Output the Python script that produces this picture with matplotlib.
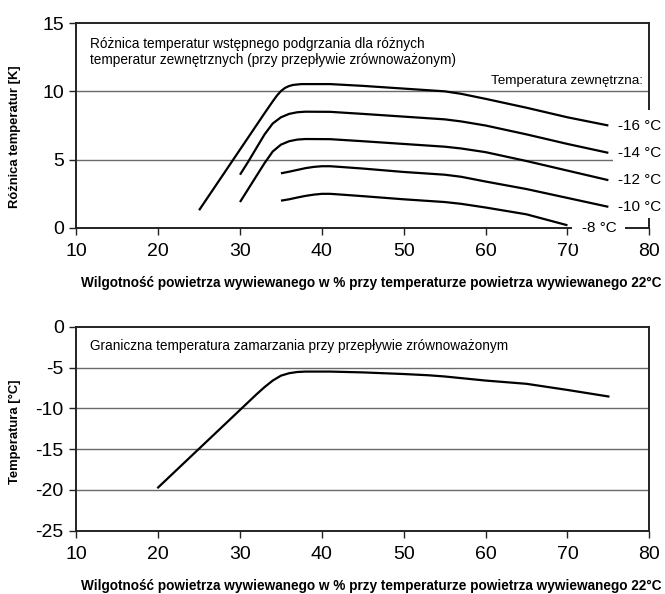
import matplotlib
matplotlib.use("Agg")
import matplotlib.pyplot as plt
from matplotlib.patches import Rectangle

plt.rcParams['font.family'] = ['Liberation Sans', 'DejaVu Sans']
plt.rcParams['axes.unicode_minus'] = False

# Preheating temperature difference [K] vs. exhaust-air humidity [%], per outdoor temperature
outdoor_labels = ["-16 °C", "-14 °C", "-12 °C", "-10 °C", "-8 °C"]

x_m16 = [25, 33, 34, 34.5, 35, 35.5, 36, 36.5, 37.5, 41, 45, 50, 53, 55, 57, 60, 65, 70, 75]
y_m16 = [1.3, 8.4, 9.27, 9.68, 10.02, 10.25, 10.39, 10.47, 10.53, 10.53, 10.4, 10.2,
         10.08, 10.0, 9.82, 9.45, 8.8, 8.1, 7.5]

x_m14 = [30, 31, 32, 33, 34, 35, 36, 37, 38, 41, 45, 50, 53, 55, 57, 60, 65, 70, 75]
y_m14 = [3.9, 4.85, 5.85, 6.85, 7.65, 8.1, 8.35, 8.47, 8.51, 8.5, 8.35, 8.15,
         8.03, 7.95, 7.8, 7.5, 6.85, 6.15, 5.5]

x_m12 = [30, 31, 32, 33, 34, 35, 36, 37, 38, 41, 45, 50, 53, 55, 57, 60, 65, 70, 75]
y_m12 = [1.9, 2.85, 3.8, 4.75, 5.6, 6.1, 6.35, 6.47, 6.51, 6.5, 6.35, 6.15,
         6.03, 5.95, 5.82, 5.55, 4.9, 4.2, 3.5]

x_m10 = [35, 36, 37, 38, 39, 40, 41, 42, 45, 50, 53, 55, 57, 60, 65, 70, 75]
y_m10 = [4.0, 4.12, 4.25, 4.38, 4.47, 4.52, 4.52, 4.48, 4.35, 4.1, 3.98, 3.9,
         3.75, 3.4, 2.85, 2.2, 1.55]

x_m8 = [35, 36, 37, 38, 39, 40, 41, 42, 45, 50, 53, 55, 57, 60, 65, 70]
y_m8 = [2.0, 2.1, 2.23, 2.35, 2.44, 2.5, 2.5, 2.46, 2.33, 2.1, 1.98, 1.9,
        1.77, 1.5, 1.0, 0.2]

# Freezing limit temperature [°C] vs. exhaust-air humidity [%]
x_freeze = [20, 32, 33, 34, 35, 36, 37, 38, 41, 45, 50, 53, 55, 57, 60, 65, 70, 75]
y_freeze = [-19.7, -8.3, -7.4, -6.6, -6.0, -5.7, -5.55, -5.5, -5.5, -5.6, -5.8,
            -5.95, -6.1, -6.3, -6.6, -7.0, -7.75, -8.55]

x_ticks = [10, 20, 30, 40, 50, 60, 70, 80]
y_ticks_top = [0, 5, 10, 15]
y_ticks_bottom = [-25, -20, -15, -10, -5, 0]

xlabel_text = "Wilgotność powietrza wywiewanego w % przy temperaturze powietrza wywiewanego 22°C"
title_top = ("Różnica temperatur wstępnego podgrzania dla różnych\n"
             "temperatur zewnętrznych (przy przepływie zrównoważonym)")
title_bottom = "Graniczna temperatura zamarzania przy przepływie zrównoważonym"

W, H = 665, 594
fig = plt.figure(figsize=(W / 100, H / 100), dpi=100)
ax1 = fig.add_axes([76.3 / W, 1 - 228 / H, 573 / W, 205 / H])
ax2 = fig.add_axes([76.3 / W, 1 - 530.7 / H, 573 / W, 204 / H])

spine_c = '#222222'
grid_c = '#6a6a6a'


def style(ax, yticks):
    ax.set_xlim(10, 80)
    ax.set_ylim(yticks[0], yticks[-1])
    ax.set_xticks(x_ticks)
    ax.set_yticks(yticks)
    ax.tick_params(axis='both', labelsize=14, length=5, width=1.0,
                   color=spine_c, direction='out')
    ax.tick_params(axis='y', pad=4)
    ax.tick_params(axis='x', pad=6)
    for s in ax.spines.values():
        s.set_color(spine_c)
        s.set_linewidth(1.4)
        s.set_zorder(3)
    for yv in yticks[1:-1]:
        ax.axhline(yv, color=grid_c, lw=1.0, zorder=1)


style(ax1, y_ticks_top)
style(ax2, y_ticks_bottom)

series = [(x_m16, y_m16), (x_m14, y_m14), (x_m12, y_m12), (x_m10, y_m10), (x_m8, y_m8)]
for xs, ys in series:
    ax1.plot(xs, ys, color='black', lw=1.6, zorder=4, solid_capstyle='butt')

# white panel behind the outdoor-temperature labels
ends_y = [ys[-1] for _, ys in series[:4]]
panel_left = x_m16[-1] + 0.55
ax1.add_patch(Rectangle((panel_left, min(ends_y) - 0.82), 10,
                        max(ends_y) - min(ends_y) + 1.95,
                        facecolor='white', edgecolor='none', zorder=5, clip_on=False))
for (xs, ys), lab in zip(series[:4], outdoor_labels[:4]):
    ax1.text(xs[-1] + 1.15, ys[-1], lab, fontsize=11, ha='left', va='center',
             zorder=6, clip_on=False)
ax1.text(x_m8[-1] + 3.85, 0, outdoor_labels[4], fontsize=11, ha='center', va='center',
         zorder=6, clip_on=False,
         bbox=dict(boxstyle='square,pad=0.6', facecolor='white', edgecolor='none'))

ax1.text(79.2, 10.3, "Temperatura zewnętrzna:", fontsize=9.7, ha='right', va='bottom',
         zorder=6)
ax1.text(11.7, 13.95, title_top, fontsize=9.8, ha='left', va='top', linespacing=1.12,
         zorder=6)

ax2.plot(x_freeze, y_freeze, color='black', lw=1.6, zorder=4)
ax2.text(11.7, -2.4, title_bottom, fontsize=9.8, ha='left', va='center', zorder=6)

fig.text(371 / W, 1 - 283 / H, xlabel_text, fontsize=9.85, fontweight='bold',
         ha='center', va='center')
fig.text(371 / W, 1 - 586 / H, xlabel_text, fontsize=9.85, fontweight='bold',
         ha='center', va='center')
fig.text(15 / W, 1 - 137 / H, "Różnica temperatur [K]", fontsize=9.4, fontweight='bold',
         rotation=90, ha='center', va='center')
fig.text(15 / W, 1 - 432 / H, "Temperatura [°C]", fontsize=9.4, fontweight='bold',
         rotation=90, ha='center', va='center')

fig.savefig("out.png", dpi=100, facecolor='white')
